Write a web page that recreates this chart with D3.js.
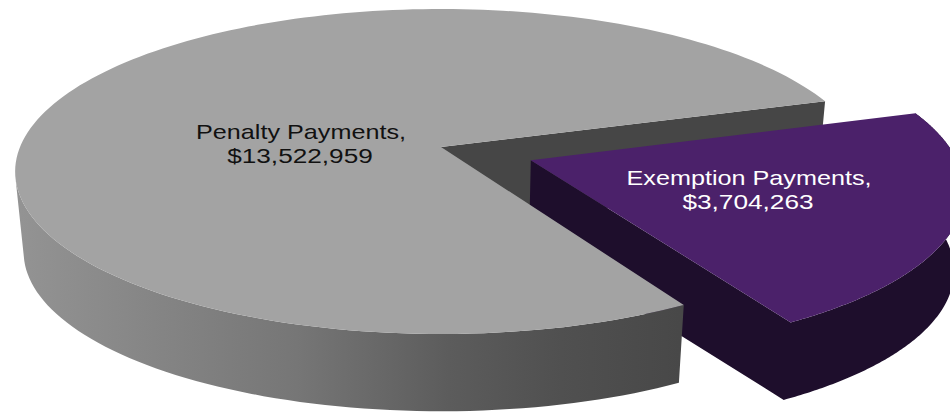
<!DOCTYPE html>
<html>
<head>
<meta charset="utf-8">
<script src="https://cdn.jsdelivr.net/npm/d3@7"></script>
<style>
  html, body { margin: 0; padding: 0; background: #fff; overflow: hidden; }
  svg { display: block; }
  text { font-family: "Liberation Sans", Arial, sans-serif; }
</style>
</head>
<body>
<script>
// Payments by type
const categories = ["Exemption Payments", "Penalty Payments"];
const payments = [3704263, 13522959];
const topColors = ["#4b216a", "#a3a3a3"];
const wallColors = ["#1e0e2c", "#464646"];
const labelColors = ["#ffffff", "#111111"];
const labelCentres = [[749, 185], [301, 139]];

const width = 950, height = 412;
const deg = Math.PI / 180;

// Perspective disc: unit-circle coordinates are projected onto the page.
const disc = { cx: 441, cy: 147, sx: 421, sy: 158.8, k: -0.1508, thickness: 81, floorScale: 0.98 };
const explode = 0.226;
const nameStretch = 1.26, valueStretch = 1.31;

function project(u, v, floor) {
  const d = 1 + disc.k * v, s = floor ? disc.floorScale : 1;
  return [
    disc.cx + s * disc.sx * u / d,
    disc.cy + s * disc.sy * v / d + (floor ? disc.thickness : 0)
  ];
}

// d3.pie angles run clockwise from twelve o'clock.
const pie = d3.pie().sort(null).startAngle(72.5 * deg).endAngle(432.5 * deg);
const slices = pie(payments).map((s, i) => {
  const mid = (s.startAngle + s.endAngle) / 2;
  const off = i === 0 ? explode : 0;
  return { ...s, i, ox: off * Math.sin(mid), oy: -off * Math.cos(mid) };
});

const rim = (s, a, floor) => project(s.ox + Math.sin(a), s.oy - Math.cos(a), floor);
const hub = (s, floor) => project(s.ox, s.oy, floor);
const arcAngles = (a0, a1) => d3.range(0, 181).map(t => a0 + (a1 - a0) * t / 180);
const line = d3.line();
const closed = pts => line(pts) + "Z";

const svg = d3.select("body").append("svg")
  .attr("width", width).attr("height", height);

// Shading across the curved outer wall of the large slice
const grad = svg.append("defs").append("linearGradient")
  .attr("id", "wallShade").attr("gradientUnits", "userSpaceOnUse")
  .attr("x1", 20).attr("x2", 680).attr("y1", 0).attr("y2", 0);
[[0, "#939393"], [0.42, "#767676"], [0.65, "#5c5c5c"], [0.82, "#505050"], [1, "#484848"]]
  .forEach(([o, c]) => grad.append("stop").attr("offset", o).attr("stop-color", c));

const [small, large] = slices;

// Cut face of the large slice, partly hidden by the pulled-out slice
svg.append("path")
  .attr("d", closed([hub(large, false), rim(large, large.endAngle, false), rim(large, large.endAngle, true), hub(large, true)]))
  .attr("fill", wallColors[1]);

// Pulled-out slice: cut wall and outer wall in a single path, then the top
const smallArc = arcAngles(small.startAngle, small.endAngle);
svg.append("path")
  .attr("d",
    closed([hub(small, false), rim(small, small.endAngle, false), rim(small, small.endAngle, true), hub(small, true)]) +
    closed([...smallArc.map(a => rim(small, a, false)), ...smallArc.slice().reverse().map(a => rim(small, a, true))]))
  .attr("fill", wallColors[0])
  .attr("fill-rule", "nonzero");
svg.append("path")
  .attr("d", closed([hub(small, false), ...smallArc.map(a => rim(small, a, false))]))
  .attr("fill", topColors[0]);

// Large slice: outer wall up to the disc's left-most point, then the top
const largeArc = arcAngles(large.startAngle, large.endAngle);
const frontArc = largeArc.filter(a => a <= 261 * deg);
svg.append("path")
  .attr("d", closed([...frontArc.map(a => rim(large, a, false)), ...frontArc.slice().reverse().map(a => rim(large, a, true))]))
  .attr("fill", "url(#wallShade)");
svg.append("path")
  .attr("d", closed([hub(large, false), ...largeArc.map(a => rim(large, a, false))]))
  .attr("fill", topColors[1]);

// Two-line value labels, drawn wide
const money = d3.format("$,");
const labels = svg.selectAll("g.label").data(categories).join("g")
  .attr("class", "label")
  .attr("transform", (d, i) => `translate(${labelCentres[i][0]},${labelCentres[i][1]})`);
labels.append("text")
  .attr("text-anchor", "middle").attr("font-size", 20)
  .attr("transform", `scale(${nameStretch},1)`)
  .attr("fill", (d, i) => labelColors[i])
  .text(d => d + ",");
labels.append("text")
  .attr("text-anchor", "middle").attr("font-size", 20)
  .attr("transform", `translate(-1,24) scale(${valueStretch},1)`)
  .attr("fill", (d, i) => labelColors[i])
  .text((d, i) => money(payments[i]));
</script>
</body>
</html>
